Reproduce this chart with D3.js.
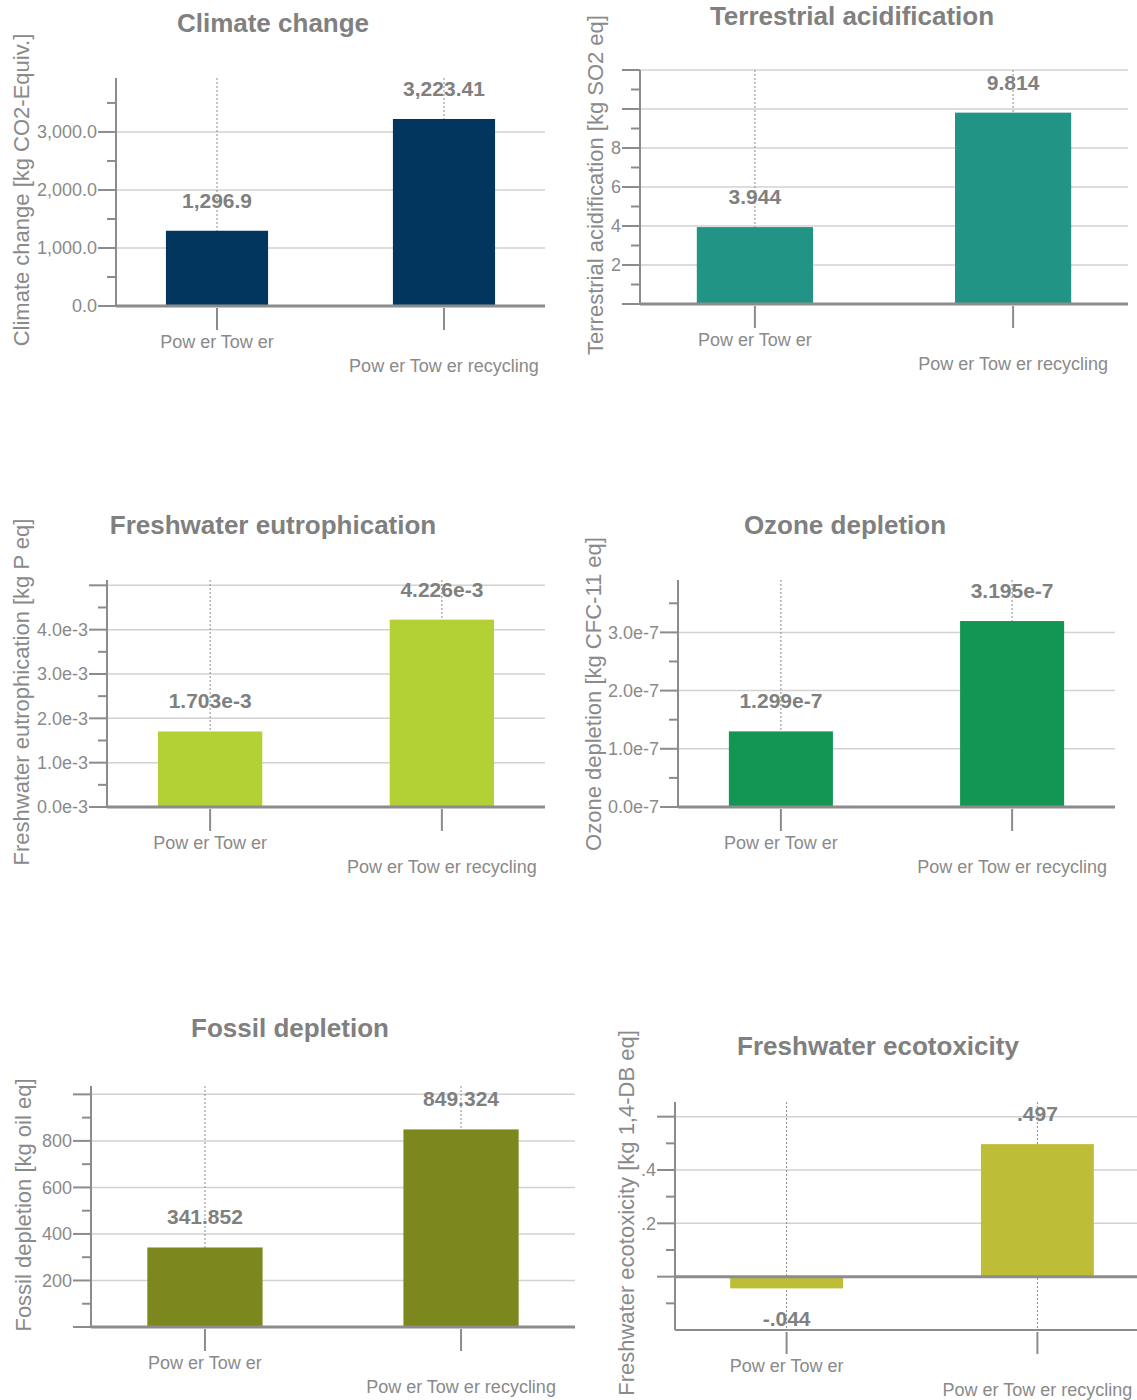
<!DOCTYPE html>
<html>
<head>
<meta charset="utf-8">
<script src="https://cdn.jsdelivr.net/npm/d3@7/dist/d3.min.js"></script>
<style>
	body { margin: 0; background: #fff; }
	svg { display: block; font-family: "Liberation Sans", Arial, sans-serif; }
	.title { font-size: 26px; font-weight: bold; fill: #808080; }
	.ylab { font-size: 22px; fill: #8a8a8a; }
	.tick-label { font-size: 18px; fill: #8a8a8a; }
	.cat-label { font-size: 18px; fill: #8a8a8a; }
	.value-label { font-size: 21px; font-weight: bold; fill: #808080; }
</style>
</head>
<body>
<svg width="1137" height="1400"></svg>
<script>
// categories shared by every panel
var categories = ["Pow er Tow er", "Pow er Tow er recycling"];

// Climate change
var climateValues = [1296.9, 3223.41];
var climateLabels = ["1,296.9", "3,223.41"];
var climateTicks = [0, 1000, 2000, 3000];
var climateTickLabels = ["0.0", "1,000.0", "2,000.0", "3,000.0"];
var climateMinor = [500, 1500, 2500, 3500];

// Terrestrial acidification
var acidValues = [3.944, 9.814];
var acidLabels = ["3.944", "9.814"];
var acidTicks = [0, 2, 4, 6, 8, 10, 12];
var acidTickLabels = ["", "2", "4", "6", "8", "", ""];
var acidMinor = [1, 3, 5, 7, 9, 11];

// Freshwater eutrophication
var eutroValues = [1.703e-3, 4.226e-3];
var eutroLabels = ["1.703e-3", "4.226e-3"];
var eutroTicks = [0, 1e-3, 2e-3, 3e-3, 4e-3, 5e-3];
var eutroTickLabels = ["0.0e-3", "1.0e-3", "2.0e-3", "3.0e-3", "4.0e-3", ""];
var eutroMinor = [0.5e-3, 1.5e-3, 2.5e-3, 3.5e-3, 4.5e-3];

// Ozone depletion
var ozoneValues = [1.299e-7, 3.195e-7];
var ozoneLabels = ["1.299e-7", "3.195e-7"];
var ozoneTicks = [0, 1e-7, 2e-7, 3e-7];
var ozoneTickLabels = ["0.0e-7", "1.0e-7", "2.0e-7", "3.0e-7"];
var ozoneMinor = [0.5e-7, 1.5e-7, 2.5e-7, 3.5e-7];

// Fossil depletion
var fossilValues = [341.852, 849.324];
var fossilLabels = ["341.852", "849.324"];
var fossilTicks = [0, 200, 400, 600, 800, 1000];
var fossilTickLabels = ["", "200", "400", "600", "800", ""];
var fossilMinor = [100, 300, 500, 700, 900];

// Freshwater ecotoxicity
var ecotoxValues = [-0.044, 0.497];
var ecotoxLabels = ["-.044", ".497"];
var ecotoxTicks = [0, 0.2, 0.4, 0.6];
var ecotoxTickLabels = ["", ".2", ".4", ""];
var ecotoxMinor = [-0.1, 0.1, 0.3, 0.5];

var panels = [
	{title: "Climate change", ylab: "Climate change [kg CO2-Equiv.]", color: "#03365f",
	 values: climateValues, labels: climateLabels, ticks: climateTicks, tickLabels: climateTickLabels, minor: climateMinor,
	 domain: [0, 3930], ax: 116, top: 78, bottom: 306, right: 545, tx: 273, ty: 32, lx: 21, ly: 190},
	{title: "Terrestrial acidification", ylab: "Terrestrial acidification [kg SO2 eq]", color: "#229486",
	 values: acidValues, labels: acidLabels, ticks: acidTicks, tickLabels: acidTickLabels, minor: acidMinor,
	 domain: [0, 12], ax: 640, top: 70, bottom: 304, right: 1128, tx: 852, ty: 25, lx: 595, ly: 185},
	{title: "Freshwater eutrophication", ylab: "Freshwater eutrophication [kg P eq]", color: "#b3d035",
	 values: eutroValues, labels: eutroLabels, ticks: eutroTicks, tickLabels: eutroTickLabels, minor: eutroMinor,
	 domain: [0, 5.12e-3], ax: 107, top: 580, bottom: 807, right: 545, tx: 273, ty: 534, lx: 21, ly: 692},
	{title: "Ozone depletion", ylab: "Ozone depletion [kg CFC-11 eq]", color: "#139653",
	 values: ozoneValues, labels: ozoneLabels, ticks: ozoneTicks, tickLabels: ozoneTickLabels, minor: ozoneMinor,
	 domain: [0, 3.9e-7], ax: 678, top: 580, bottom: 807, right: 1115, tx: 845, ty: 534, lx: 593, ly: 694},
	{title: "Fossil depletion", ylab: "Fossil depletion [kg oil eq]", color: "#7c871d",
	 values: fossilValues, labels: fossilLabels, ticks: fossilTicks, tickLabels: fossilTickLabels, minor: fossilMinor,
	 domain: [0, 1036], ax: 91, top: 1086, bottom: 1327, right: 575, tx: 290, ty: 1037, lx: 23, ly: 1205},
	{title: "Freshwater ecotoxicity", ylab: "Freshwater ecotoxicity  [kg 1,4-DB eq]", color: "#bebd38",
	 values: ecotoxValues, labels: ecotoxLabels, ticks: ecotoxTicks, tickLabels: ecotoxTickLabels, minor: ecotoxMinor,
	 domain: [-0.2, 0.655], ax: 675, top: 1102, bottom: 1330, right: 1149, tx: 878, ty: 1055, lx: 626, ly: 1213}
];

var svg = d3.select("svg");
var axisColor = "#8c8c8c",
	gridColor = "#d2d2d2";

panels.forEach(drawPanel);

function drawPanel(p){
	var g = svg.append("g");

	var x = d3.scaleBand()
	.domain(categories)
	.range([p.ax, p.right])
	.paddingInner(0.55)
	.paddingOuter(0.22);

	var y = d3.scaleLinear()
	.domain(p.domain)
	.range([p.bottom, p.top]);

	var xc = function(d) { return x(d) + x.bandwidth() / 2; };

	// title and axis title
	g.append("text")
	.attr("class", "title")
	.attr("x", p.tx)
	.attr("y", p.ty)
	.attr("text-anchor", "middle")
	.text(p.title);

	g.append("text")
	.attr("class", "ylab")
	.attr("transform", "translate(" + p.lx + "," + p.ly + ") rotate(-90)")
	.attr("text-anchor", "middle")
	.attr("dy", "0.35em")
	.text(p.ylab);

	// grid lines
	g.append("g")
	.selectAll("line")
	.data(p.ticks.filter(function(t){ return t > 0; }))
	.enter().append("line")
	.attr("x1", p.ax).attr("x2", p.right)
	.attr("y1", function(d){ return y(d); })
	.attr("y2", function(d){ return y(d); })
	.attr("stroke", gridColor)
	.attr("stroke-width", 1.5);

	// value labels
	g.append("g")
	.selectAll("text")
	.data(p.values)
	.enter().append("text")
	.attr("class", "value-label")
	.attr("text-anchor", "middle")
	.attr("x", function(d, i){ return xc(categories[i]); })
	.attr("y", function(d){ return d >= 0 ? y(d) - 23 : y(d) + 38; })
	.text(function(d, i){ return p.labels[i]; });

	// dotted guide lines through each category
	g.append("g")
	.selectAll("line")
	.data(categories)
	.enter().append("line")
	.attr("x1", xc).attr("x2", xc)
	.attr("y1", p.top).attr("y2", p.bottom)
	.attr("stroke", "#8c8c8c")
	.attr("stroke-width", 1)
	.attr("stroke-dasharray", "2,2");

	// bars
	g.append("g")
	.selectAll("rect")
	.data(p.values)
	.enter().append("rect")
	.attr("x", function(d, i){ return x(categories[i]); })
	.attr("width", x.bandwidth())
	.attr("y", function(d){ return y(Math.max(0, d)); })
	.attr("height", function(d){ return Math.abs(y(d) - y(0)); })
	.attr("fill", p.color);

	// y axis
	g.append("line")
	.attr("x1", p.ax).attr("x2", p.ax)
	.attr("y1", p.top).attr("y2", p.bottom)
	.attr("stroke", axisColor)
	.attr("stroke-width", 2);

	g.append("g")
	.selectAll("line")
	.data(p.ticks)
	.enter().append("line")
	.attr("x1", p.ax - 18).attr("x2", p.ax)
	.attr("y1", function(d){ return y(d); })
	.attr("y2", function(d){ return y(d); })
	.attr("stroke", axisColor)
	.attr("stroke-width", 2);

	g.append("g")
	.selectAll("line")
	.data(p.minor)
	.enter().append("line")
	.attr("x1", p.ax - 9).attr("x2", p.ax - 1)
	.attr("y1", function(d){ return y(d); })
	.attr("y2", function(d){ return y(d); })
	.attr("stroke", axisColor)
	.attr("stroke-width", 2);

	g.append("g")
	.selectAll("text")
	.data(p.ticks)
	.enter().append("text")
	.attr("class", "tick-label")
	.attr("text-anchor", "end")
	.attr("x", p.ax - 19)
	.attr("y", function(d){ return y(d); })
	.attr("dy", "0.35em")
	.text(function(d, i){ return p.tickLabels[i]; });

	// zero line (thick) and bottom frame line
	g.append("line")
	.attr("x1", p.ax).attr("x2", p.right)
	.attr("y1", y(0)).attr("y2", y(0))
	.attr("stroke", axisColor)
	.attr("stroke-width", 3);

	if (y(0) !== p.bottom) {
		g.append("line")
		.attr("x1", p.ax).attr("x2", p.right)
		.attr("y1", p.bottom).attr("y2", p.bottom)
		.attr("stroke", axisColor)
		.attr("stroke-width", 2);
	}

	// category ticks and labels (staggered)
	g.append("g")
	.selectAll("line")
	.data(categories)
	.enter().append("line")
	.attr("x1", xc).attr("x2", xc)
	.attr("y1", p.bottom + 2).attr("y2", p.bottom + 24)
	.attr("stroke", axisColor)
	.attr("stroke-width", 2);

	g.append("g")
	.selectAll("text")
	.data(categories)
	.enter().append("text")
	.attr("class", "cat-label")
	.attr("text-anchor", "middle")
	.attr("x", xc)
	.attr("y", function(d, i){ return p.bottom + 42 + i * 24; })
	.text(function(d){ return d; });
}
</script>
</body>
</html>
